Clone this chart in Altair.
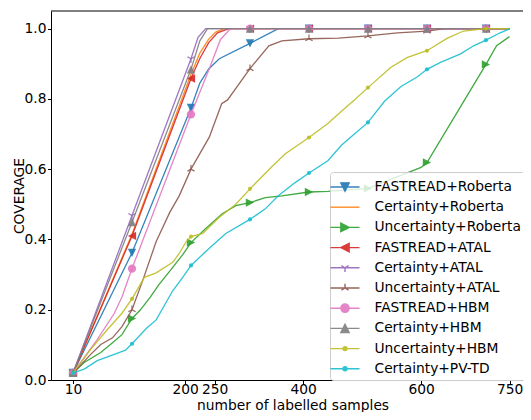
import altair as alt
import pandas as pd

names = ["FASTREAD+Roberta", "Certainty+Roberta", "Uncertainty+Roberta",
         "FASTREAD+ATAL", "Certainty+ATAL", "Uncertainty+ATAL",
         "FASTREAD+HBM", "Certainty+HBM", "Uncertainty+HBM", "Certainty+PV-TD"]
colors = ["#1f77b4", "#ff7f0e", "#2ca02c", "#d62728", "#9467bd",
          "#8c564b", "#e377c2", "#7f7f7f", "#bcbd22", "#17becf"]

x_fr_rob = [10, 110, 210, 225, 240, 258, 310, 358, 410, 510, 610, 710, 750]
y_fr_rob = [0.02, 0.362, 0.774, 0.845, 0.885, 0.914, 0.958, 1.0, 1.0, 1.0, 1.0, 1.0, 1.0]

x_ce_rob = [10, 110, 210, 225, 240, 252, 266, 310, 410, 510, 610, 710, 750]
y_ce_rob = [0.02, 0.415, 0.87, 0.93, 0.97, 0.99, 1.0, 1.0, 1.0, 1.0, 1.0, 1.0, 1.0]

x_un_rob = [10, 29, 57, 77, 93, 110, 124, 141, 155, 174, 196, 210, 235, 263, 286, 310,
            336, 364, 410, 442, 510, 600, 610, 666, 710, 728, 750]
y_un_rob = [0.02, 0.05, 0.078, 0.106, 0.129, 0.175, 0.199, 0.236, 0.27, 0.31, 0.357, 0.391,
            0.431, 0.473, 0.496, 0.505, 0.519, 0.524, 0.535, 0.537, 0.545, 0.605, 0.619,
            0.775, 0.898, 0.951, 0.977]

x_fr_atal = [10, 110, 210, 225, 240, 255, 274, 310, 410, 510, 610, 710, 750]
y_fr_atal = [0.02, 0.41, 0.858, 0.915, 0.96, 0.988, 1.0, 1.0, 1.0, 1.0, 1.0, 1.0, 1.0]

x_ce_atal = [10, 110, 210, 222, 235, 310, 410, 510, 610, 710, 750]
y_ce_atal = [0.02, 0.468, 0.914, 0.975, 1.0, 1.0, 1.0, 1.0, 1.0, 1.0, 1.0]

x_un_atal = [10, 40, 57, 77, 93, 110, 129, 151, 174, 190, 210, 241, 262, 272, 310, 342,
             364, 410, 460, 510, 560, 610, 640, 710, 750]
y_un_atal = [0.02, 0.073, 0.101, 0.12, 0.152, 0.2, 0.287, 0.394, 0.477, 0.524, 0.60, 0.691,
             0.786, 0.797, 0.886, 0.951, 0.965, 0.971, 0.973, 0.979, 0.988, 0.993, 1.0,
             1.0, 1.0]

x_fr_hbm = [10, 51, 80, 93, 110, 210, 241, 260, 277, 310, 410, 510, 610, 710, 750]
y_fr_hbm = [0.02, 0.115, 0.19, 0.236, 0.317, 0.756, 0.886, 0.969, 1.0, 1.0, 1.0, 1.0, 1.0,
            1.0, 1.0]

x_ce_hbm = [10, 110, 210, 225, 238, 310, 410, 510, 610, 710, 750]
y_ce_hbm = [0.02, 0.449, 0.884, 0.965, 1.0, 1.0, 1.0, 1.0, 1.0, 1.0, 1.0]

x_un_hbm = [10, 40, 68, 93, 110, 131, 151, 179, 190, 202, 210, 230, 258, 286, 310, 347,
            370, 410, 442, 465, 487, 510, 549, 577, 610, 644, 672, 710, 750]
y_un_hbm = [0.02, 0.087, 0.143, 0.19, 0.231, 0.292, 0.305, 0.335, 0.36, 0.394, 0.408,
            0.417, 0.463, 0.50, 0.544, 0.607, 0.644, 0.69, 0.73, 0.765, 0.797, 0.832,
            0.89, 0.918, 0.937, 0.972, 0.993, 1.0, 1.0]

x_ce_pvtd = [10, 29, 51, 80, 99, 110, 135, 151, 179, 196, 210, 241, 269, 310, 336, 358,
             386, 410, 442, 465, 487, 510, 538, 566, 594, 610, 633, 667, 689, 710, 734, 750]
y_ce_pvtd = [0.02, 0.031, 0.055, 0.073, 0.085, 0.103, 0.148, 0.171, 0.254, 0.292, 0.326,
             0.375, 0.417, 0.457, 0.487, 0.524, 0.561, 0.589, 0.624, 0.668, 0.70, 0.733,
             0.793, 0.835, 0.863, 0.884, 0.904, 0.928, 0.951, 0.967, 0.988, 0.999]

series_x = [x_fr_rob, x_ce_rob, x_un_rob, x_fr_atal, x_ce_atal, x_un_atal,
            x_fr_hbm, x_ce_hbm, x_un_hbm, x_ce_pvtd]
series_y = [y_fr_rob, y_ce_rob, y_un_rob, y_fr_atal, y_ce_atal, y_un_atal,
            y_fr_hbm, y_ce_hbm, y_un_hbm, y_ce_pvtd]

marker_x = [10, 110, 210, 310, 410, 510, 610, 710]
x_ticks = [10, 200, 250, 400, 600, 750]
y_ticks = [0.0, 0.2, 0.4, 0.6, 0.8, 1.0]

# plot markers (unit square paths, matplotlib style)
plot_markers = [
    ("M-1,-1L1,-1L0,1Z", True, 69),          # v
    (None, True, 0),                          # none
    ("M-1,-1L1,0L-1,1Z", True, 69),           # >
    ("M1,-1L-1,0L1,1Z", True, 69),            # <
    ("M0,0L0,1M0,0L-0.866,-0.5M0,0L0.866,-0.5", False, 69),  # 1
    ("M0,0L0,-1M0,0L-0.866,0.5M0,0L0.866,0.5", False, 69),   # 2
    ("circle", True, 69),                     # o
    ("M-1,1L1,1L0,-1Z", True, 69),            # ^
    ("circle", True, 17),                     # .
    ("circle", True, 17),                     # .
]

L = "M-1.45,0H1.45"
m = 0.415
legend_paths = [
    L + f"M-{m},-{m}L{m},-{m}L0,{m}Z",
    L,
    L + f"M-{m},-{m}L{m},0L-{m},{m}Z",
    L + f"M{m},-{m}L-{m},0L{m},{m}Z",
    L + f"M0,0L0,{m}M0,0L-{0.866*m:.3f},-{0.5*m:.3f}M0,0L{0.866*m:.3f},-{0.5*m:.3f}",
    L + f"M0,0L0,-{m}M0,0L-{0.866*m:.3f},{0.5*m:.3f}M0,0L{0.866*m:.3f},{0.5*m:.3f}",
    L + f"M{m},0A{m},{m} 0 1,1 -{m},0A{m},{m} 0 1,1 {m},0Z",
    L + f"M-{m},{m}L{m},{m}L0,-{m}Z",
    L + "M0.2,0A0.2,0.2 0 1,1 -0.2,0A0.2,0.2 0 1,1 0.2,0Z",
    L + "M0.2,0A0.2,0.2 0 1,1 -0.2,0A0.2,0.2 0 1,1 0.2,0Z",
]

rows = []
for n, xs, ys in zip(names, series_x, series_y):
    for xv, yv in zip(xs, ys):
        rows.append({"series": n, "x": xv, "y": yv, "marker": xv in marker_x})
df = pd.DataFrame(rows)

LEFT = 51
W, H = 472, 369
FONT = "DejaVu Sans"
FS = 13.8

xscale = alt.Scale(domain=[-27.3, 772.8], nice=False, zero=False)
yscale = alt.Scale(domain=[0, 1.05], nice=False, zero=False)

X = alt.X("x:Q", scale=xscale, axis=alt.Axis(
    values=x_ticks, title="number of labelled samples", grid=False,
    tickSize=3.5, labelPadding=-1.5, titleX=292.5 - LEFT, titleY=29,
    titleBaseline="alphabetic", titleAlign="center"))
Y = alt.Y("y:Q", scale=yscale, axis=alt.Axis(
    values=y_ticks, format=".1f", title="COVERAGE", grid=False,
    tickSize=3.5, labelPadding=1.5, titleX=23.3 - LEFT, titleY=H / 2,
    titleAngle=270, titleBaseline="alphabetic", titleAlign="center"))

base = alt.Chart(df)
layers = []
for i, n in enumerate(names):
    c = colors[i]
    sub = base.transform_filter(alt.datum.series == n)
    layers.append(sub.mark_line(color=c, strokeWidth=1.3, opacity=0.9, clip=True)
                  .encode(x=X, y=Y))
    shape, filled, size = plot_markers[i]
    if shape is not None:
        if filled:
            mk = sub.transform_filter(alt.datum.marker).mark_point(
                shape=shape, filled=True, fill=c, size=size, opacity=0.9,
                strokeWidth=0, clip=True)
        else:
            mk = sub.transform_filter(alt.datum.marker).mark_point(
                shape=shape, filled=False, stroke=c, size=size, opacity=0.9,
                strokeWidth=1.2, clip=True)
        layers.append(mk.encode(x=X, y=Y))

# legend-only layer (points sit outside the visible domain and are clipped)
leg_df = pd.DataFrame({"series": names, "x": [-1000] * len(names), "y": [0.5] * len(names)})
leg_common = dict(orient="none", legendX=330 - LEFT, legendY=161, title=None,
                  padding=4, fillColor="rgba(255,255,255,0.8)", strokeColor="#cccccc",
                  cornerRadius=3, symbolSize=400, symbolStrokeWidth=1.4,
                  labelFont=FONT, labelFontSize=FS, labelColor="black",
                  labelOffset=18.5, rowPadding=2.2, symbolOpacity=0.9)
leg_layer = alt.Chart(leg_df).mark_point(filled=True, clip=True, size=400).encode(
    x=alt.X("x:Q", scale=xscale),
    y=alt.Y("y:Q", scale=yscale),
    color=alt.Color("series:N", scale=alt.Scale(domain=names, range=colors),
                    legend=alt.Legend(**leg_common)),
    stroke=alt.Stroke("series:N", scale=alt.Scale(domain=names, range=colors),
                      legend=alt.Legend(**leg_common)),
    shape=alt.Shape("series:N", scale=alt.Scale(domain=names, range=legend_paths),
                    legend=alt.Legend(**leg_common)),
)

top = alt.Chart(pd.DataFrame({"k": [0]})).mark_rule(color="black", strokeWidth=1).encode(
    x=alt.value(0), x2=alt.value(W), y=alt.value(0))

chart = alt.layer(*layers, leg_layer, top).properties(
    width=W, height=H,
    padding={"left": LEFT - 8, "top": 3, "right": 0, "bottom": 404 - 3 - H},
    autosize=alt.AutoSizeParams(type="none"),
).configure_view(stroke=None).configure_axis(
    labelFont=FONT, labelFontSize=FS, labelColor="black",
    titleFont=FONT, titleFontSize=FS, titleColor="black", titleFontWeight="normal",
    domainColor="black", tickColor="black", domainWidth=1, tickWidth=1,
)

chart.save("out.html", embed_options={"renderer": "svg", "actions": False})
